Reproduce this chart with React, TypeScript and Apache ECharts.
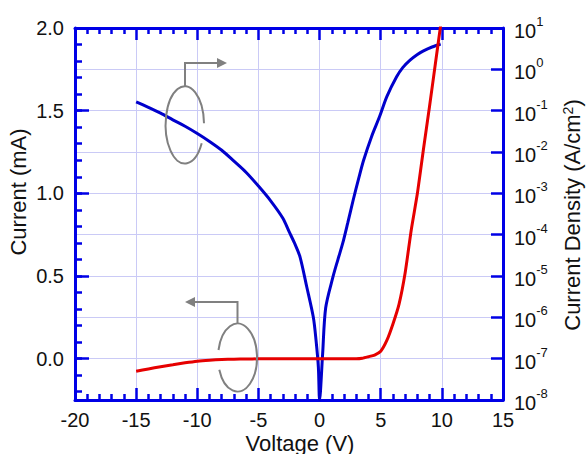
import React, { useEffect, useRef } from 'react';
import * as echarts from 'echarts';

// ---- data ----
const redVoltage = [-15, -14, -13, -12, -11, -10, -9, -8, -7, -6, -5, -4, -3, -2, -1, 0, 1, 2, 3, 3.5, 4, 4.5, 5, 5.5, 6, 6.5, 7, 7.5, 8, 8.5, 9, 9.5, 10];
const redCurrent = [-0.076, -0.062, -0.049, -0.037, -0.025, -0.015, -0.009, -0.005, -0.003, -0.002, -0.001, -0.0005, 0, 0, 0, 0, 0, 0, 0, 0.003, 0.012, 0.022, 0.045, 0.11, 0.21, 0.33, 0.52, 0.78, 1.0, 1.27, 1.53, 1.8, 2.07];

const blueVoltage = [-15, -14, -13, -12, -11, -10, -9, -8, -7, -6, -5, -4, -3, -2.5, -2, -1.6, -1.05, -0.51, -0.29, -0.1, 0, 0.25, 0.5, 1.1, 1.5, 1.9, 2.3, 2.75, 3.2, 3.6, 4.25, 4.9, 5.5, 6.3, 6.8, 7.4, 8.0, 8.5, 9.2, 9.9];
const blueDensity = [1.64e-1, 1.2e-1, 8.7e-2, 6.0e-2, 4.2e-2, 2.8e-2, 1.8e-2, 1.1e-2, 6.0e-3, 3.2e-3, 1.5e-3, 6.6e-4, 2.5e-4, 1.2e-4, 5.8e-5, 2.9e-5, 5.5e-6, 1.0e-6, 2.8e-7, 6.3e-8, 1e-8, 1.3e-7, 1.7e-6, 9.6e-6, 2.5e-5, 6.3e-5, 1.9e-4, 6.9e-4, 2.3e-3, 6.3e-3, 2.35e-2, 7.1e-2, 2.19e-1, 6.6e-1, 1.1, 1.67, 2.29, 2.8, 3.47, 4.1];

const leftAxisTitle = 'Current (mA)';
const rightAxisTitle = 'Current Density (A/cm{sup|2})';
const bottomAxisTitle = 'Voltage (V)';

const FONT = '"Liberation Sans", Arial, Helvetica, sans-serif';
const AXIS_BLUE = '#0000e6';
const GRID_COLOR = '#cacaf6';
const GRAY = '#808080';

try {
  echarts.graphic.registerShape(
    'loopA',
    echarts.graphic.extendPath('M 201.7 143.3 A 19.2 38.7 0 1 1 204 123.3', {})
  );
  echarts.graphic.registerShape(
    'loopB',
    echarts.graphic.extendPath('M 218.5 350 A 19.5 34 0 1 1 219.3 369.7', {})
  );
} catch (e) {
  // ignore double registration
}

function titleText(text: string, x: number, y: number, rotation: number, rich?: any) {
  return {
    type: 'text',
    x,
    y,
    rotation,
    z: 100,
    style: {
      text,
      fill: '#111',
      fontSize: 22,
      lineHeight: 22,
      fontFamily: FONT,
      align: 'center',
      verticalAlign: 'middle',
      textAlign: 'center',
      textVerticalAlign: 'middle',
      rich,
    },
  };
}

export default function App() {
  const ref = useRef<HTMLDivElement>(null);

  useEffect(() => {
    const chart = echarts.init(ref.current!, null, { renderer: 'svg' });

    const textBase = { color: '#111', fontSize: 20, fontFamily: FONT };

    const option: any = {
      animation: false,
      backgroundColor: '#ffffff',
      grid: [
        { left: 75, right: 84, top: 28, bottom: 54 },
        { left: 75, right: 84, top: 28, bottom: 62.27 },
      ],
      xAxis: [
        {
          gridIndex: 0,
          type: 'value',
          min: -20,
          max: 15,
          interval: 5,
          position: 'bottom',
          axisLine: { show: true, onZero: false, lineStyle: { color: AXIS_BLUE, width: 3 } },
          axisTick: { show: true, inside: true, length: 12, lineStyle: { color: AXIS_BLUE, width: 2.5 } },
          minorTick: { show: true, splitNumber: 5, length: 6, lineStyle: { color: AXIS_BLUE, width: 2.5 } },
          axisLabel: { ...textBase, lineHeight: 20, margin: 10 },
          splitLine: { show: true, lineStyle: { color: GRID_COLOR, width: 1 } },
        },
        {
          gridIndex: 0,
          type: 'value',
          min: -20,
          max: 15,
          interval: 5,
          position: 'top',
          axisLine: { show: true, onZero: false, lineStyle: { color: AXIS_BLUE, width: 3 } },
          axisTick: { show: true, inside: true, length: 12, lineStyle: { color: AXIS_BLUE, width: 2.5 } },
          minorTick: { show: true, splitNumber: 5, length: 6, lineStyle: { color: AXIS_BLUE, width: 2.5 } },
          axisLabel: { show: false },
          splitLine: { show: false },
        },
        {
          gridIndex: 1,
          type: 'value',
          min: -20,
          max: 15,
          show: false,
          axisLine: { show: false, onZero: false },
        },
      ],
      yAxis: [
        {
          gridIndex: 0,
          type: 'value',
          min: -0.25,
          max: 2,
          splitNumber: 5,
          position: 'left',
          axisLine: { show: true, onZero: false, lineStyle: { color: AXIS_BLUE, width: 3 } },
          axisTick: { show: true, inside: true, length: 14, lineStyle: { color: AXIS_BLUE, width: 2.5 } },
          axisLabel: {
            ...textBase,
            margin: 11,
            formatter: (v: number) => (v < -0.01 ? '' : v.toFixed(1)),
          },
          splitLine: { show: false },
        },
        {
          gridIndex: 0,
          type: 'log',
          logBase: 10,
          min: 1e-8,
          max: 10,
          interval: 1,
          position: 'right',
          axisLine: { show: true, onZero: false, lineStyle: { color: AXIS_BLUE, width: 3 } },
          axisTick: { show: true, inside: true, length: 12, lineStyle: { color: AXIS_BLUE, width: 2.5 } },
          minorTick: { show: false },
          splitLine: { show: true, lineStyle: { color: GRID_COLOR, width: 1 } },
          axisLabel: {
            margin: 11,
            formatter: (v: number) => `{b|10}{s|${Math.round(Math.log10(v))}}`,
            rich: {
              b: { ...textBase, lineHeight: 26, verticalAlign: 'bottom' },
              s: { color: '#111', fontFamily: FONT, fontSize: 13, lineHeight: 14, verticalAlign: 'top' },
            },
          },
        },
        {
          gridIndex: 1,
          type: 'value',
          min: -0.2,
          max: 2.0,
          interval: 0.1,
          position: 'left',
          axisLine: { show: false, onZero: false },
          axisTick: { show: true, inside: true, length: 7, lineStyle: { color: AXIS_BLUE, width: 2.5 } },
          axisLabel: { show: false },
          splitLine: { show: false },
        },
      ],
      series: [
        {
          name: 'density',
          type: 'line',
          xAxisIndex: 0,
          yAxisIndex: 1,
          showSymbol: false,
          symbol: 'none',
          smooth: 0.3,
          lineStyle: { color: '#0000cc', width: 3 },
          data: blueVoltage.map((v, i) => [v, blueDensity[i]]),
          z: 3,
        },
        {
          name: 'current',
          type: 'line',
          xAxisIndex: 0,
          yAxisIndex: 0,
          showSymbol: false,
          symbol: 'none',
          smooth: 0.2,
          lineStyle: { color: '#e60000', width: 3 },
          data: redVoltage.map((v, i) => [v, redCurrent[i]]),
          z: 4,
        },
      ],
      graphic: [
        titleText(bottomAxisTitle, 300, 443, 0),
        titleText(leftAxisTitle, 18, 192, Math.PI / 2),
        titleText(rightAxisTitle, 572, 215, Math.PI / 2, {
          sup: { fill: '#111', color: '#111', fontFamily: FONT, fontSize: 14, verticalAlign: 'top', lineHeight: 14 },
        }),
        { type: 'loopA', x: 0, y: 0, z: 100, style: { stroke: GRAY, lineWidth: 2, fill: 'none' } },
        { type: 'loopB', x: 0, y: 0, z: 100, style: { stroke: GRAY, lineWidth: 2, fill: 'none' } },
        {
          type: 'polyline',
          z: 100,
          shape: { points: [[185, 86], [185, 63], [218, 63]] },
          style: { stroke: GRAY, lineWidth: 2, fill: 'none' },
        },
        {
          type: 'polygon',
          z: 100,
          shape: { points: [[217, 58], [227, 63], [217, 68]] },
          style: { fill: GRAY, stroke: 'none' },
        },
        {
          type: 'polyline',
          z: 100,
          shape: { points: [[237.5, 324], [237.5, 302], [194, 302]] },
          style: { stroke: GRAY, lineWidth: 2, fill: 'none' },
        },
        {
          type: 'polygon',
          z: 100,
          shape: { points: [[195, 297], [185, 302], [195, 307]] },
          style: { fill: GRAY, stroke: 'none' },
        },
      ],
    };

    chart.setOption(option);
    return () => chart.dispose();
  }, []);

  return (
    <div
      ref={ref}
      style={{ position: 'absolute', left: 0, top: 0, width: 587, height: 454, background: '#fff' }}
    />
  );
}
